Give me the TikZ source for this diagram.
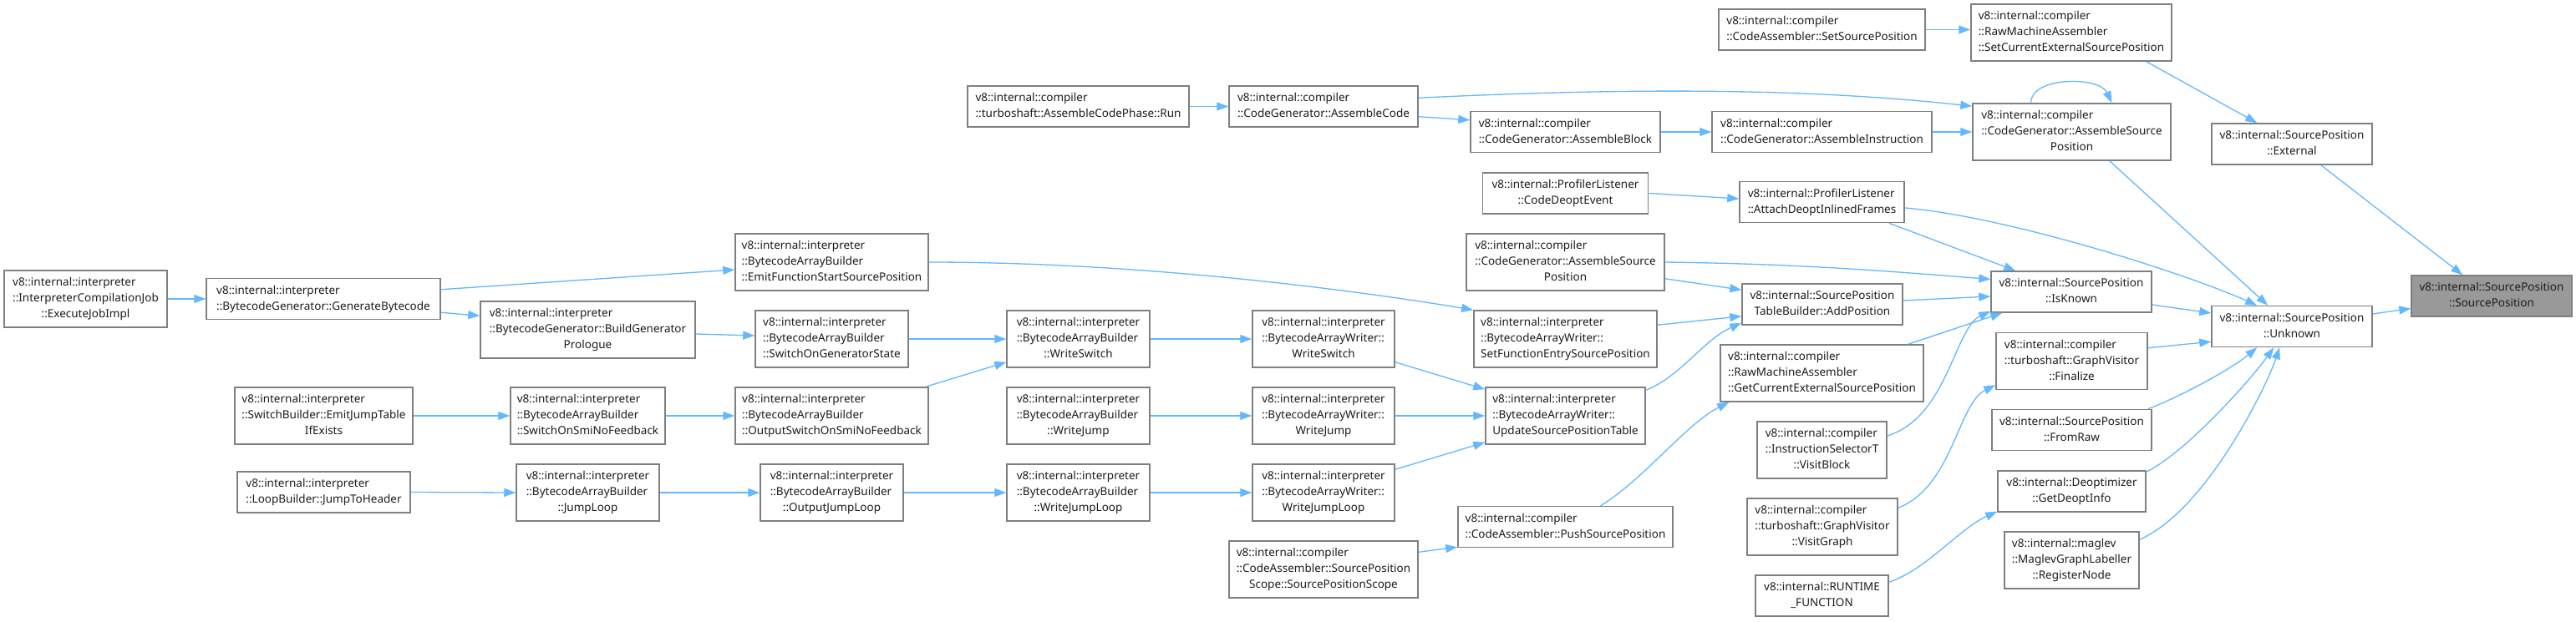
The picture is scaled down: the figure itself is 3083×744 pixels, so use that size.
\documentclass[tikz,border=0pt]{standalone}
\usepackage{fontspec}
\setmainfont{Noto Sans}
\usetikzlibrary{arrows.meta,calc}
\definecolor{edgeblue}{HTML}{63B8FF}
\definecolor{nodeborder}{HTML}{7F7F7F}
\definecolor{targetfill}{HTML}{999999}
\definecolor{txt}{HTML}{1C1C1C}
\newcommand{\tl}[1]{\begin{tabular}{@{}l@{}}#1\end{tabular}}
\newcommand{\lc}[1]{\multicolumn{1}{@{}c@{}}{#1}}
\tikzset{
  box/.style={draw=nodeborder, line width=1.5pt, fill=white, rectangle, inner sep=0pt,
    text=txt, font=\fontsize{13.5}{19}\selectfont},
  target/.style={box, fill=targetfill},
  edge/.style={draw=edgeblue, line width=1.3pt, -{Triangle[length=14pt,width=10pt]}}
}
\begin{document}
\begin{tikzpicture}[x=1pt,y=-1pt]
\fill[white] (0,0) rectangle (3083,744);
\useasboundingbox (0,0) rectangle (3083,744);

% column 1
\node[box, minimum width=195pt, minimum height=68pt] (exec) at (102.5,358) {\tl{v8::internal::interpreter\\::InterpreterCompilationJob\\\lc{::ExecuteJobImpl}}};
% column 2
\node[box, minimum width=280pt, minimum height=49pt] (genbc) at (387,358) {\tl{v8::internal::interpreter\\::BytecodeGenerator::GenerateBytecode}};
\node[box, minimum width=213pt, minimum height=68pt] (emitjump) at (387.5,498) {\tl{v8::internal::interpreter\\::SwitchBuilder::EmitJumpTable\\\lc{IfExists}}};
\node[box, minimum width=207pt, minimum height=49pt] (jumptoheader) at (387.5,589.5) {\tl{v8::internal::interpreter\\::LoopBuilder::JumpToHeader}};
% column 3
\node[box, minimum width=257pt, minimum height=68pt] (buildgen) at (703.5,395) {\tl{v8::internal::interpreter\\::BytecodeGenerator::BuildGenerator\\\lc{Prologue}}};
\node[box, minimum width=185pt, minimum height=68pt] (switchsmi) at (703.5,498) {\tl{v8::internal::interpreter\\::BytecodeArrayBuilder\\::SwitchOnSmiNoFeedback}};
\node[box, minimum width=171pt, minimum height=68pt] (jumploop) at (703.5,590) {\tl{v8::internal::interpreter\\::BytecodeArrayBuilder\\\lc{::JumpLoop}}};
% column 4
\node[box, minimum width=231pt, minimum height=68pt] (emitfsp) at (995.5,314) {\tl{v8::internal::interpreter\\::BytecodeArrayBuilder\\::EmitFunctionStartSourcePosition}};
\node[box, minimum width=183pt, minimum height=68pt] (switchgen) at (995.5,406) {\tl{v8::internal::interpreter\\::BytecodeArrayBuilder\\::SwitchOnGeneratorState}};
\node[box, minimum width=231pt, minimum height=68pt] (outswitch) at (995.5,498) {\tl{v8::internal::interpreter\\::BytecodeArrayBuilder\\::OutputSwitchOnSmiNoFeedback}};
\node[box, minimum width=171pt, minimum height=68pt] (outjumploop) at (995.5,590) {\tl{v8::internal::interpreter\\::BytecodeArrayBuilder\\\lc{::OutputJumpLoop}}};
% column 5
\node[box, minimum width=265pt, minimum height=49pt] (asmphase) at (1290.5,127.5) {\tl{v8::internal::compiler\\::turboshaft::AssembleCodePhase::Run}};
\node[box, minimum width=171pt, minimum height=68pt] (wswitch) at (1290.5,406) {\tl{v8::internal::interpreter\\::BytecodeArrayBuilder\\\lc{::WriteSwitch}}};
\node[box, minimum width=171pt, minimum height=68pt] (wjump) at (1290.5,498) {\tl{v8::internal::interpreter\\::BytecodeArrayBuilder\\\lc{::WriteJump}}};
\node[box, minimum width=171pt, minimum height=68pt] (wjumploop) at (1290.5,590) {\tl{v8::internal::interpreter\\::BytecodeArrayBuilder\\\lc{::WriteJumpLoop}}};
% column 6
\node[box, minimum width=226pt, minimum height=49pt] (asmcode) at (1584,127.5) {\tl{v8::internal::compiler\\::CodeGenerator::AssembleCode}};
\node[box, minimum width=170pt, minimum height=68pt] (bwswitch) at (1584,406) {\tl{v8::internal::interpreter\\::BytecodeArrayWriter::\\\lc{WriteSwitch}}};
\node[box, minimum width=170pt, minimum height=68pt] (bwjump) at (1584,498) {\tl{v8::internal::interpreter\\::BytecodeArrayWriter::\\\lc{WriteJump}}};
\node[box, minimum width=170pt, minimum height=68pt] (bwjumploop) at (1584,590) {\tl{v8::internal::interpreter\\::BytecodeArrayWriter::\\\lc{WriteJumpLoop}}};
\node[box, minimum width=226pt, minimum height=68pt] (spscope) at (1584,682) {\tl{v8::internal::compiler\\::CodeAssembler::SourcePosition\\\lc{Scope::SourcePositionScope}}};
% column 7
\node[box, minimum width=227pt, minimum height=49pt] (asmblock) at (1873.5,158) {\tl{v8::internal::compiler\\::CodeGenerator::AssembleBlock}};
\node[box, minimum width=198pt, minimum height=49pt] (codedeopt) at (1873.5,231.5) {\tl{v8::internal::ProfilerListener\\\lc{::CodeDeoptEvent}}};
\node[box, minimum width=237pt, minimum height=68pt] (asmsptwo) at (1873.5,314) {\tl{v8::internal::compiler\\::CodeGenerator::AssembleSource\\\lc{Position}}};
\node[box, minimum width=219pt, minimum height=68pt] (setfesp) at (1873.5,406) {\tl{v8::internal::interpreter\\::BytecodeArrayWriter::\\SetFunctionEntrySourcePosition}};
\node[box, minimum width=191pt, minimum height=68pt] (updsp) at (1873.5,498) {\tl{v8::internal::interpreter\\::BytecodeArrayWriter::\\UpdateSourcePositionTable}};
\node[box, minimum width=257pt, minimum height=49pt] (pushsp) at (1873.5,631) {\tl{v8::internal::compiler\\::CodeAssembler::PushSourcePosition}};
% column 8
\node[box, minimum width=247pt, minimum height=49pt] (setsp) at (2180.5,35.5) {\tl{v8::internal::compiler\\::CodeAssembler::SetSourcePosition}};
\node[box, minimum width=263pt, minimum height=49pt] (asminst) at (2180.5,158) {\tl{v8::internal::compiler\\::CodeGenerator::AssembleInstruction}};
\node[box, minimum width=197pt, minimum height=49pt] (attach) at (2180.5,242) {\tl{v8::internal::ProfilerListener\\::AttachDeoptInlinedFrames}};
\node[box, minimum width=192pt, minimum height=49pt] (addpos) at (2181,364.5) {\tl{v8::internal::SourcePosition\\\lc{TableBuilder::AddPosition}}};
\node[box, minimum width=243pt, minimum height=68pt] (getcesp) at (2180.5,447) {\tl{v8::internal::compiler\\::RawMachineAssembler\\::GetCurrentExternalSourcePosition}};
\node[box, minimum width=155pt, minimum height=68pt] (visitblock) at (2180.5,539) {\tl{v8::internal::compiler\\::InstructionSelectorT\\\lc{::VisitBlock}}};
\node[box, minimum width=180pt, minimum height=68pt] (visitgraph) at (2181,631) {\tl{v8::internal::compiler\\::turboshaft::GraphVisitor\\\lc{::VisitGraph}}};
\node[box, minimum width=159pt, minimum height=49pt] (runtime) at (2180.5,713.5) {\tl{v8::internal::RUNTIME\\\lc{\_FUNCTION}}};
% column 9
\node[box, minimum width=240pt, minimum height=68pt] (setcesp) at (2479,39) {\tl{v8::internal::compiler\\::RawMachineAssembler\\::SetCurrentExternalSourcePosition}};
\node[box, minimum width=237pt, minimum height=68pt] (asmsp) at (2479.5,158) {\tl{v8::internal::compiler\\::CodeGenerator::AssembleSource\\\lc{Position}}};
\node[box, minimum width=192pt, minimum height=49pt] (isknown) at (2479,349.5) {\tl{v8::internal::SourcePosition\\\lc{::IsKnown}}};
\node[box, minimum width=181pt, minimum height=68pt] (finalize) at (2479.5,432.5) {\tl{v8::internal::compiler\\::turboshaft::GraphVisitor\\\lc{::Finalize}}};
\node[box, minimum width=191pt, minimum height=49pt] (fromraw) at (2479.5,515) {\tl{v8::internal::SourcePosition\\\lc{::FromRaw}}};
\node[box, minimum width=177pt, minimum height=49pt] (getdeopt) at (2479.5,588.5) {\tl{v8::internal::Deoptimizer\\\lc{::GetDeoptInfo}}};
\node[box, minimum width=161pt, minimum height=68pt] (regnode) at (2479.5,671) {\tl{v8::internal::maglev\\::MaglevGraphLabeller\\\lc{::RegisterNode}}};
% column 10
\node[box, minimum width=192pt, minimum height=49pt] (external) at (2743,172.5) {\tl{v8::internal::SourcePosition\\\lc{::External}}};
\node[box, minimum width=192pt, minimum height=49pt] (unknown) at (2743,391) {\tl{v8::internal::SourcePosition\\\lc{::Unknown}}};
% target
\node[target, minimum width=192pt, minimum height=49pt] (target) at (2982,354.5) {\tl{v8::internal::SourcePosition\\\lc{::SourcePosition}}};

% edges
\draw[edge] (exec) -- (genbc);
\draw[edge] ($(genbc.north east)+(0,14)$) -- ($(emitfsp.west)+(0,9)$);
\draw[edge] ($(genbc.south east)+(0,-9)$) -- ($(buildgen.north west)+(0,18)$);
\draw[edge] (emitfsp.east) .. controls +(250,0) and +(-150,-25) .. (setfesp.north west);
\draw[edge] ($(buildgen.east)+(0,5)$) -- ($(switchgen.west)+(0,-4)$);
\draw[edge] (emitjump) -- (switchsmi);
\draw[edge] (switchsmi) -- (outswitch);
\draw[edge] (jumptoheader.east) -- (jumploop.west);
\draw[edge] (jumploop) -- (outjumploop);
\draw[edge] (switchgen) -- (wswitch);
\draw[edge] ($(outswitch.north east)+(-4,0)$) -- ($(wswitch.south west)+(0,-7)$);
\draw[edge] (outjumploop) -- (wjumploop);
\draw[edge] (wswitch) -- (bwswitch);
\draw[edge] (wjump) -- (bwjump);
\draw[edge] (wjumploop) -- (bwjumploop);
\draw[edge] ($(bwswitch.south east)+(0,-7)$) -- ($(updsp.north west)+(0,3)$);
\draw[edge] (bwjump) -- (updsp);
\draw[edge] ($(bwjumploop.north east)+(0,7)$) -- ($(updsp.south west)+(0,-3)$);
\draw[edge] ($(spscope.north east)+(0,14)$) -- ($(pushsp.south west)+(0,-1)$);
\draw[edge] (asmphase) -- (asmcode);
\draw[edge] ($(asmcode.south east)+(0,-13)$) -- ($(asmblock.north west)+(0,11)$);
\draw[edge] ($(asmcode.north east)+(0,15)$) .. controls +(250,-12) and +(-200,-22) .. ($(asmsp.north west)+(0,4)$);
\draw[edge] (asmblock) -- (asminst);
\draw[edge] (asminst) -- (asmsp);
\draw[edge] ($(asmsp.north)+(-49,0)$) .. controls +(0,-32) and +(-15,-32) .. ($(asmsp.north)+(48,0)$);
\draw[edge] (setsp.east) -- (setsp.east -| setcesp.west);
\draw[edge] ($(setcesp.south east)+(-31,0)$) -- ($(external.north west)+(55,0)$);
\draw[edge] ($(asmsp.south east)+(-74,0)$) -- ($(unknown.north west)+(68,0)$);
\draw[edge] (codedeopt.east) -- ($(attach.west)+(0,-4)$);
\draw[edge] ($(attach.south east)+(-19,0)$) -- ($(isknown.north west)+(30,0)$);
\draw[edge] ($(attach.east)+(0,7)$) .. controls +(120,10) and +(-90,-40) .. ($(unknown.north west)+(55,0)$);
\draw[edge] (asmsptwo.east) .. controls +(150,2) and +(-150,-12) .. ($(isknown.west)+(0,-15)$);
\draw[edge] ($(asmsptwo.south east)+(0,-15)$) -- ($(addpos.north west)+(0,8)$);
\draw[edge] ($(setfesp.north east)+(0,18)$) -- ($(addpos.south west)+(0,-11)$);
\draw[edge] ($(updsp.north east)+(0,4)$) .. controls +(40,-15) and +(-45,20) .. ($(addpos.south west)+(0,-3)$);
\draw[edge] ($(addpos.east)+(0,-4.5)$) -- ($(isknown.west)+(0,5.5)$);
\draw[edge] ($(pushsp.north)+(42,0)$) .. controls +(50,-30) and +(-50,25) .. ($(getcesp.south west)+(11,0)$);
\draw[edge] ($(getcesp.north east)+(-19,0)$) -- ($(isknown.south west)+(14,0)$);
\draw[edge] ($(visitblock.east)+(0,-17)$) .. controls +(72,-22) and +(-43,20) .. ($(isknown.south west)+(0,-2)$);
\draw[edge] ($(visitgraph.north east)+(0,12)$) .. controls +(65,-25) and +(-45,22) .. ($(finalize.south west)+(0,-6)$);
\draw[edge] ($(runtime.north east)+(0,9)$) .. controls +(45,-15) and +(-45,20) .. ($(getdeopt.south west)+(0,-1)$);
\draw[edge] ($(isknown.east)+(0,15.5)$) -- ($(unknown.west)+(0,-16)$);
\draw[edge] ($(finalize.north east)+(0,19)$) -- ($(unknown.south west)+(0,-7)$);
\draw[edge] ($(fromraw.north east)+(-5,0)$) .. controls +(40,-15) and +(-30,25) .. ($(unknown.south west)+(55,0)$);
\draw[edge] ($(getdeopt.north east)+(0,2)$) .. controls +(50,-25) and +(-25,35) .. ($(unknown.south west)+(75,0)$);
\draw[edge] ($(regnode.north east)+(0,10)$) .. controls +(80,-35) and +(-15,45) .. ($(unknown.south west)+(82,0)$);
\draw[edge] ($(unknown.east)+(0,-15)$) -- ($(target.west)+(0,15)$);
\draw[edge] ($(external.south east)+(-62,0)$) -- ($(target.north west)+(62,0)$);
\end{tikzpicture}
\end{document}
